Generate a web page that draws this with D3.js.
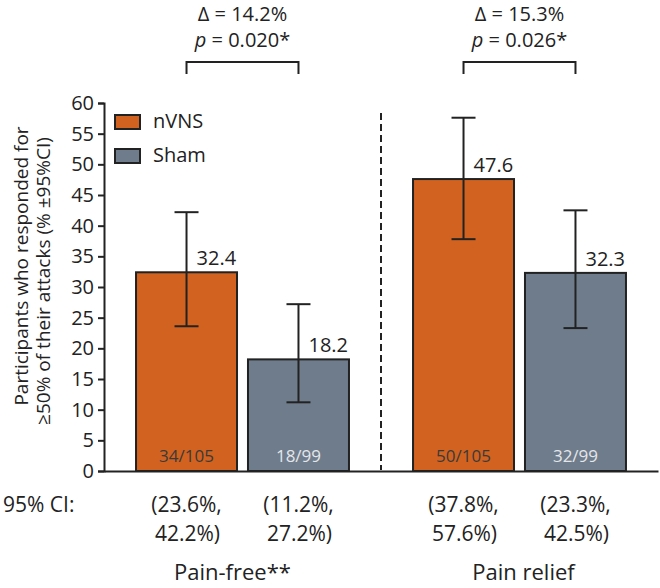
<!DOCTYPE html>
<html>
<head>
<meta charset="utf-8">
<script src="https://cdn.jsdelivr.net/npm/d3@7"></script>
<style>
  html, body { margin: 0; padding: 0; background: #fff; }
  svg { display: block; font-family: "Open Sans", "Noto Sans", sans-serif; }
</style>
</head>
<body>
<svg id="chart" width="660" height="588"></svg>
<script>
// ---- data ----
const groups = ["Pain-free**", "Pain relief"];
const series = ["nVNS", "Sham"];
const nvnsValues = [32.4, 47.6];
const shamValues = [18.2, 32.3];
const nvnsCiLow = [23.6, 37.8];
const nvnsCiHigh = [42.2, 57.6];
const shamCiLow = [11.2, 23.3];
const shamCiHigh = [27.2, 42.5];
const nvnsCounts = ["34/105", "50/105"];
const shamCounts = ["18/99", "32/99"];
const deltaLabels = ["Δ = 14.2%", "Δ = 15.3%"];
const pValues = ["0.020*", "0.026*"];
const yTicks = [0, 5, 10, 15, 20, 25, 30, 35, 40, 45, 50, 55, 60];
const yTitle = ["Participants who responded for", "≥50% of their attacks (% ±95%CI)"];

const colors = { nVNS: "#D2621F", Sham: "#6F7C8B" };
const countColors = { nVNS: "#3a3a3a", Sham: "#e4e6ea" };

const rows = [];
groups.forEach((g, i) => {
  rows.push({ group: g, gi: i, series: "nVNS", value: nvnsValues[i], lo: nvnsCiLow[i], hi: nvnsCiHigh[i], count: nvnsCounts[i] });
  rows.push({ group: g, gi: i, series: "Sham", value: shamValues[i], lo: shamCiLow[i], hi: shamCiHigh[i], count: shamCounts[i] });
});

const svg = d3.select("#chart");
const x0 = d3.scaleBand().domain(groups).range([104, 658]).padding(0);
const x1 = d3.scaleBand().domain(series).range([0, x0.bandwidth()]).paddingInner(0.098).paddingOuter(0.286);
const y = d3.scaleLinear().domain([0, 60]).range([471, 103]);

const ink = "#222";

// bars
const bx = d => x0(d.group) + x1(d.series);
const cx = d => bx(d) + x1.bandwidth() / 2;

svg.append("g").selectAll("rect").data(rows).join("rect")
  .attr("x", bx)
  .attr("y", d => y(d.value))
  .attr("width", x1.bandwidth())
  .attr("height", d => y(0) - y(d.value))
  .attr("fill", d => colors[d.series])
  .attr("stroke", ink)
  .attr("stroke-width", 2);

// error bars
const eb = svg.append("g").attr("stroke", ink).attr("stroke-width", 2).attr("fill", "none");
eb.selectAll("line.v").data(rows).join("line").attr("class", "v")
  .attr("x1", cx).attr("x2", cx).attr("y1", d => y(d.lo)).attr("y2", d => y(d.hi));
eb.selectAll("line.t").data(rows).join("line").attr("class", "t")
  .attr("x1", d => cx(d) - 12).attr("x2", d => cx(d) + 12).attr("y1", d => y(d.hi)).attr("y2", d => y(d.hi));
eb.selectAll("line.b").data(rows).join("line").attr("class", "b")
  .attr("x1", d => cx(d) - 12).attr("x2", d => cx(d) + 12).attr("y1", d => y(d.lo)).attr("y2", d => y(d.lo));

// value labels
svg.append("g").selectAll("text").data(rows).join("text")
  .attr("x", d => cx(d) + 10)
  .attr("y", d => y(d.value) - 7)
  .attr("font-size", 20)
  .attr("fill", ink)
  .text(d => d.value.toFixed(1));

// count labels
svg.append("g").selectAll("text").data(rows).join("text")
  .attr("x", cx)
  .attr("y", 462)
  .attr("text-anchor", "middle")
  .attr("font-size", 17)
  .attr("fill", d => countColors[d.series])
  .text(d => d.count);

// axes
const yAxis = d3.axisLeft(y).tickValues(yTicks).tickSize(6).tickPadding(4);
const gy = svg.append("g").attr("transform", "translate(104,0)").call(yAxis);
gy.select(".domain").attr("stroke", ink).attr("stroke-width", 2);
gy.selectAll(".tick line").attr("stroke", ink).attr("stroke-width", 2);
gy.selectAll(".tick text").attr("font-size", 20).attr("fill", ink)
  .attr("font-family", "Open Sans, Noto Sans, sans-serif");

const xAxis = d3.axisBottom(x0).tickSize(0).tickFormat("");
const gx = svg.append("g").attr("transform", "translate(0,471)").call(xAxis);
gx.select(".domain").attr("stroke", ink).attr("stroke-width", 2);

// dashed separator
svg.append("line")
  .attr("x1", x0(groups[1])).attr("x2", x0(groups[1]))
  .attr("y1", 113).attr("y2", 470)
  .attr("stroke", ink).attr("stroke-width", 2).attr("stroke-dasharray", "7,4");

// y title
yTitle.forEach((t, i) => {
  svg.append("text")
    .attr("transform", `translate(${[28, 50][i]},${[266, 281][i]}) rotate(-90)`)
    .attr("text-anchor", "middle")
    .attr("font-size", 19)
    .attr("fill", ink)
    .text(t);
});

// legend
series.forEach((s, i) => {
  const ly = 115 + i * 34;
  svg.append("rect").attr("x", 115).attr("y", ly).attr("width", 25).attr("height", 14)
    .attr("fill", colors[s]).attr("stroke", ink).attr("stroke-width", 2);
  svg.append("text").attr("x", 153).attr("y", ly + 13).attr("font-size", 20).attr("fill", ink).text(s);
});

// significance brackets & annotations
groups.forEach((g, i) => {
  const a = x0(g) + x1("nVNS") + x1.bandwidth() / 2;
  const b = x0(g) + x1("Sham") + x1.bandwidth() / 2;
  svg.append("path")
    .attr("d", `M${a},74 V62 H${b} V74`)
    .attr("fill", "none").attr("stroke", ink).attr("stroke-width", 2);
  const mid = (a + b) / 2;
  svg.append("text").attr("x", mid).attr("y", 21).attr("text-anchor", "middle")
    .attr("font-size", 20).attr("fill", ink).text(deltaLabels[i]);
  const pt = svg.append("text").attr("x", mid).attr("y", 47).attr("text-anchor", "middle")
    .attr("font-size", 20).attr("fill", ink);
  pt.append("tspan").attr("font-style", "italic").text("p");
  pt.append("tspan").text(" = " + pValues[i]);
});

// CI row
svg.append("text").attr("x", 3).attr("y", 512).attr("font-size", 21).attr("fill", ink).text("95% CI:");
const ciT = svg.append("g").selectAll("text").data(rows).join("text")
  .attr("text-anchor", "middle")
  .attr("font-size", 21)
  .attr("fill", ink);
ciT.append("tspan").attr("x", cx).attr("y", 512).text(d => `(${d.lo.toFixed(1)}%,`);
ciT.append("tspan").attr("x", d => cx(d) + 1).attr("y", 541).text(d => `${d.hi.toFixed(1)}%)`);

// group labels
svg.append("g").selectAll("text").data(groups).join("text")
  .attr("x", (g, i) => x0(g) + x0.bandwidth() / 2 + (i === 0 ? -10 : 4))
  .attr("y", 580)
  .attr("text-anchor", "middle")
  .attr("font-size", 22)
  .attr("fill", ink)
  .text(g => g);
</script>
</body>
</html>
